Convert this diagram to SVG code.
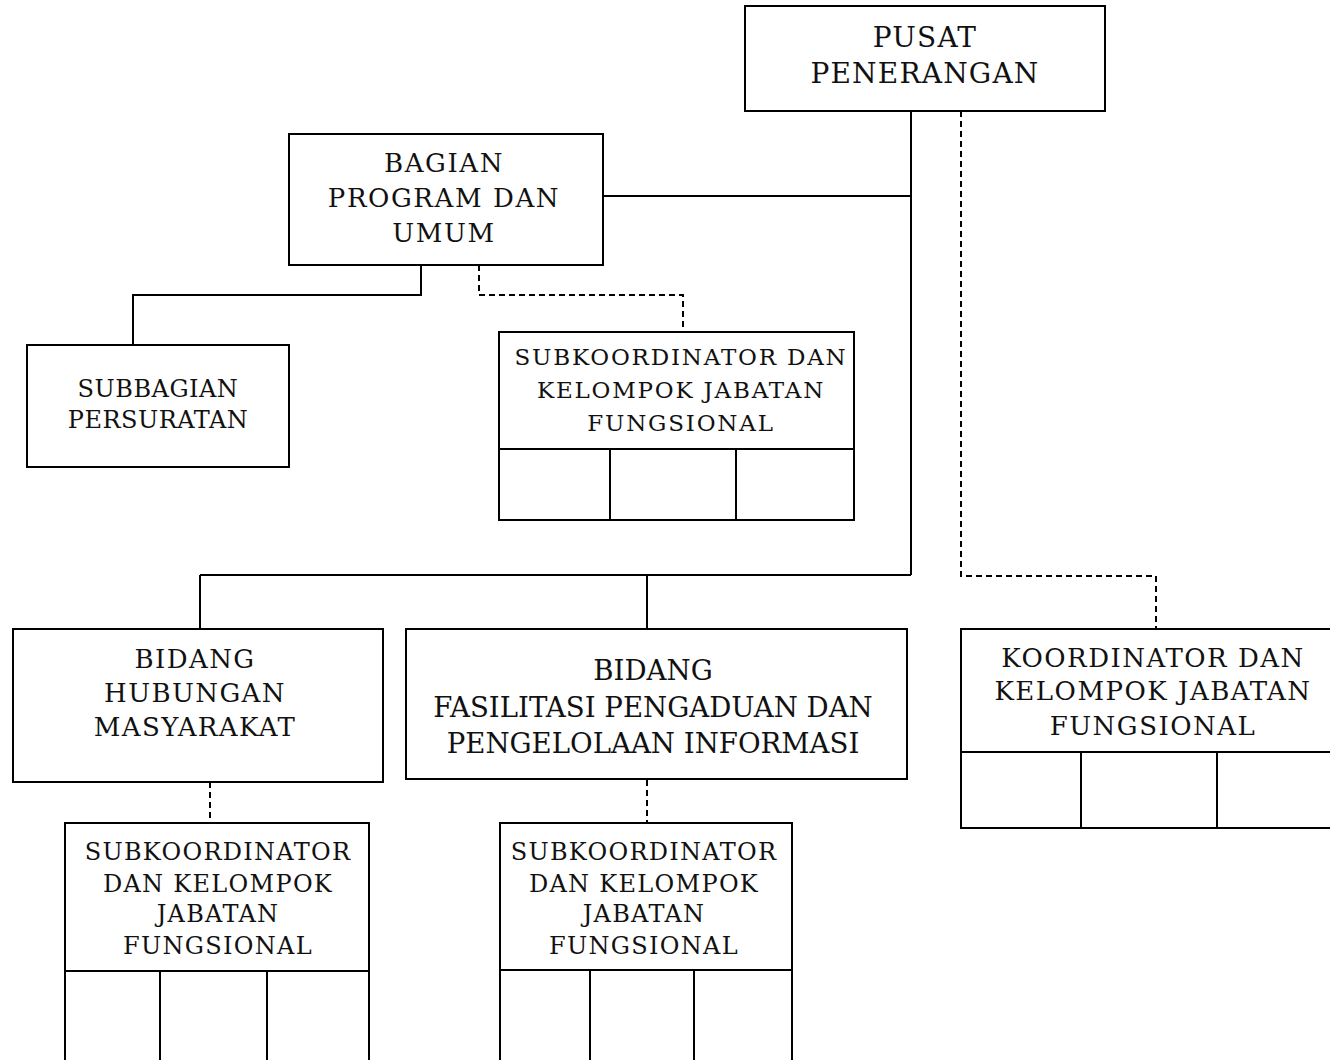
<svg xmlns="http://www.w3.org/2000/svg" width="1330" height="1060" viewBox="0 0 1330 1060">
<style>
  .box{fill:#fff;stroke:#000;stroke-width:2}
  .ln{fill:none;stroke:#000;stroke-width:2}
  .dash{fill:none;stroke:#000;stroke-width:2;stroke-dasharray:6,4}
  text{font-family:"DejaVu Serif","Liberation Serif",serif;fill:#111;text-anchor:middle}
</style>
<rect width="1330" height="1060" fill="#fff"/>
<g id="connectors">
  <path class="ln" d="M911 111 V575 M603 196 H911 M421 265 V295 H133 V345 M200 575 H911 M200 575 V629 M647 575 V629"/>
  <path class="dash" d="M961 111 V576 H1156 V629 M479 265 V295 H683 V332 M210 782 V823 M647 780 V823"/>
</g>
<g id="pusat">
  <rect class="box" x="745" y="6" width="360" height="105"/>
  <text x="925" y="47" font-size="28" letter-spacing="1.2">PUSAT</text>
  <text x="925" y="83" font-size="28" letter-spacing="1.2">PENERANGAN</text>
</g>
<g id="bagian">
  <rect class="box" x="289" y="134" width="314" height="131"/>
  <text x="444" y="172" font-size="26" letter-spacing="1.6">BAGIAN</text>
  <text x="444" y="207" font-size="26" letter-spacing="1.6">PROGRAM DAN</text>
  <text x="444" y="242" font-size="26" letter-spacing="1.6">UMUM</text>
</g>
<g id="subbagian">
  <rect class="box" x="27" y="345" width="262" height="122"/>
  <text x="158" y="397" font-size="24" letter-spacing="0.5">SUBBAGIAN</text>
  <text x="158" y="428" font-size="24" letter-spacing="0.5">PERSURATAN</text>
</g>
<g id="subkoord-bagian">
  <rect class="box" x="499" y="332" width="355" height="117"/>
  <rect class="box" x="499" y="449" width="111" height="71"/>
  <rect class="box" x="610" y="449" width="126" height="71"/>
  <rect class="box" x="736" y="449" width="118" height="71"/>
  <text x="681" y="365" font-size="23" letter-spacing="1.8">SUBKOORDINATOR DAN</text>
  <text x="681" y="398" font-size="23" letter-spacing="1.8">KELOMPOK JABATAN</text>
  <text x="681" y="431" font-size="23" letter-spacing="1.8">FUNGSIONAL</text>
</g>
<g id="bidang-humas">
  <rect class="box" x="13" y="629" width="370" height="153"/>
  <text x="195" y="668" font-size="26" letter-spacing="1.4">BIDANG</text>
  <text x="195" y="702" font-size="26" letter-spacing="1.4">HUBUNGAN</text>
  <text x="195" y="736" font-size="26" letter-spacing="1.4">MASYARAKAT</text>
</g>
<g id="bidang-fasilitasi">
  <rect class="box" x="406" y="629" width="501" height="150"/>
  <text x="653" y="680" font-size="27.6">BIDANG</text>
  <text x="653" y="717" font-size="27.6">FASILITASI PENGADUAN DAN</text>
  <text x="653" y="753" font-size="27.6">PENGELOLAAN INFORMASI</text>
</g>
<g id="koordinator">
  <rect class="box" x="961" y="629" width="380" height="123"/>
  <rect class="box" x="961" y="752" width="120" height="76"/>
  <rect class="box" x="1081" y="752" width="136" height="76"/>
  <rect class="box" x="1217" y="752" width="124" height="76"/>
  <text x="1153" y="667" font-size="26" letter-spacing="1.5">KOORDINATOR DAN</text>
  <text x="1153" y="700" font-size="26" letter-spacing="1.5">KELOMPOK JABATAN</text>
  <text x="1153" y="735" font-size="26" letter-spacing="1.5">FUNGSIONAL</text>
</g>
<g id="subkoord-humas">
  <rect class="box" x="65" y="823" width="304" height="148"/>
  <rect class="box" x="65" y="971" width="95" height="100"/>
  <rect class="box" x="160" y="971" width="107" height="100"/>
  <rect class="box" x="267" y="971" width="102" height="100"/>
  <text x="218" y="860" font-size="24" letter-spacing="1.3">SUBKOORDINATOR</text>
  <text x="218" y="892" font-size="24" letter-spacing="1.3">DAN KELOMPOK</text>
  <text x="218" y="922" font-size="24" letter-spacing="1.3">JABATAN</text>
  <text x="218" y="954" font-size="24" letter-spacing="1.3">FUNGSIONAL</text>
</g>
<g id="subkoord-fasilitasi">
  <rect class="box" x="500" y="823" width="292" height="147"/>
  <rect class="box" x="500" y="970" width="90" height="100"/>
  <rect class="box" x="590" y="970" width="104" height="100"/>
  <rect class="box" x="694" y="970" width="98" height="100"/>
  <text x="644" y="860" font-size="24" letter-spacing="1.3">SUBKOORDINATOR</text>
  <text x="644" y="892" font-size="24" letter-spacing="1.3">DAN KELOMPOK</text>
  <text x="644" y="922" font-size="24" letter-spacing="1.3">JABATAN</text>
  <text x="644" y="954" font-size="24" letter-spacing="1.3">FUNGSIONAL</text>
</g>
</svg>
